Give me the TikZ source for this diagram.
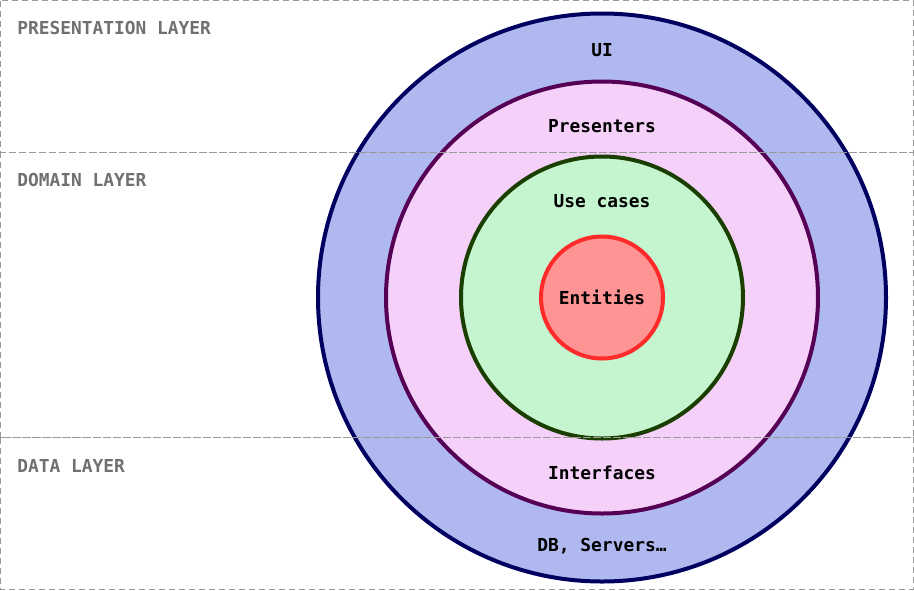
\documentclass[tikz,border=0pt]{standalone}
\usepackage{fontspec}
\newfontfamily\monofont{DejaVu Sans Mono}
\definecolor{uiFill}{HTML}{B0B8F0}
\definecolor{uiLine}{HTML}{000060}
\definecolor{prFill}{HTML}{F5D0F8}
\definecolor{prLine}{HTML}{550055}
\definecolor{ucFill}{HTML}{C4F5CF}
\definecolor{ucLine}{HTML}{1A3D00}
\definecolor{enFill}{HTML}{FF9494}
\definecolor{enLine}{HTML}{FF2A2A}
\definecolor{layerLine}{HTML}{999999}
\definecolor{layerText}{HTML}{707070}
\begin{document}
\begin{tikzpicture}[x=0.75pt,y=-0.75pt,
  ring/.style={circle,line width=3pt,inner sep=0pt},
  ringlabel/.style={font=\monofont\bfseries\fontsize{13.4}{15}\selectfont,text=black,inner sep=0pt},
  layerbox/.style={draw=layerLine,line width=0.75pt,dash pattern=on 4.5pt off 3pt},
  layerlabel/.style={font=\monofont\bfseries\fontsize{13.4}{15}\selectfont,text=layerText,anchor=west,inner sep=0pt}]
\useasboundingbox (0,0) rectangle (914,590);
\node[ring,draw=uiLine,fill=uiFill,minimum size=426pt] (ui) at (602,297.5) {};
\node[ring,draw=prLine,fill=prFill,minimum size=324pt] (pr) at (602,297.5) {};
\node[ring,draw=ucLine,fill=ucFill,minimum size=211.5pt] (uc) at (602,297.5) {};
\node[ring,draw=enLine,fill=enFill,minimum size=91.5pt] (en) at (602,297.5) {};
\node[ringlabel] (tui) at (602,50) {UI};
\node[ringlabel] (tpr) at (602,126) {Presenters};
\node[ringlabel] (tuc) at (602,201) {Use cases};
\node[ringlabel] (ten) at (602,297.5) {Entities};
\node[ringlabel] (tif) at (602,473) {Interfaces};
\node[ringlabel] (tdb) at (602,546) {DB, Servers…};
\draw[layerbox] (0.5,0.5) rectangle (913,152);
\draw[layerbox] (0.5,152) rectangle (913,437.5);
\draw[layerbox] (0.5,437.5) rectangle (913,589);
\node[layerlabel] (lp) at (17,27.5) {PRESENTATION LAYER};
\node[layerlabel] (ld) at (17,180) {DOMAIN LAYER};
\node[layerlabel] (ldt) at (17,466) {DATA LAYER};
\end{tikzpicture}
\end{document}
